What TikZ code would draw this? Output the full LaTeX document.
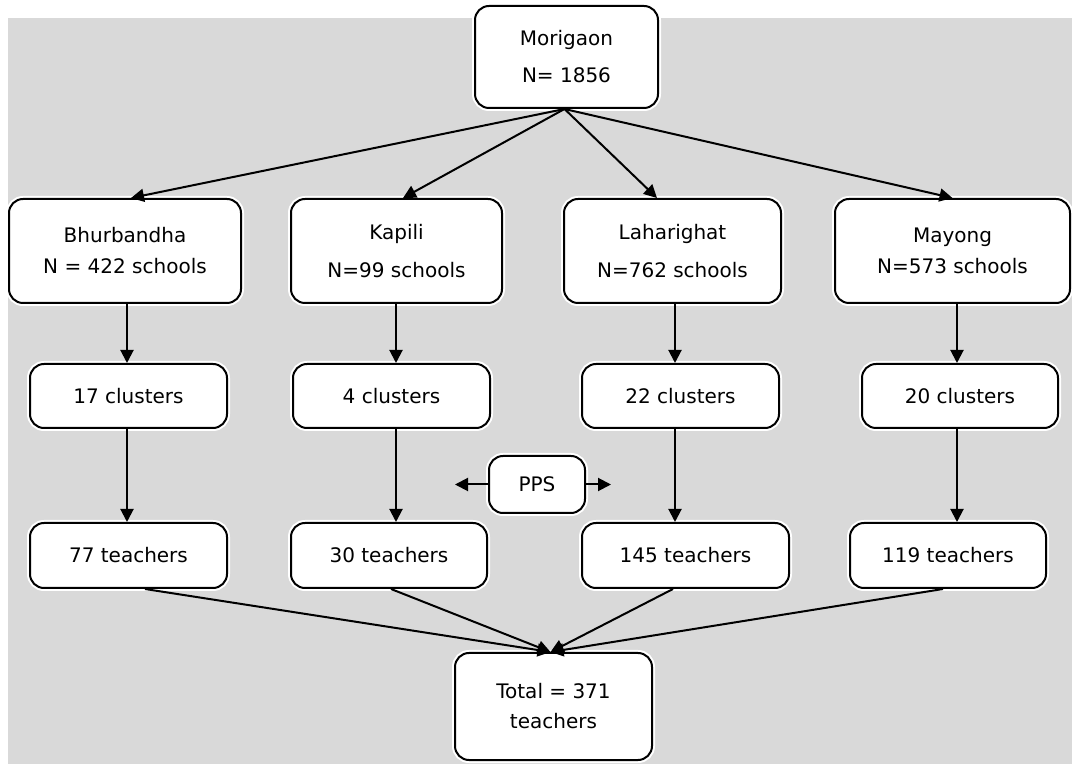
\documentclass[tikz,border=0pt]{standalone}
\usepackage{fontspec}
\setmainfont{DejaVu Sans}
\usetikzlibrary{positioning, arrows.meta}
\definecolor{bggray}{RGB}{217,217,217}
\begin{document}
\begin{tikzpicture}[x=0.5pt, y=-0.5pt,
  every node/.style={font=\fontsize{10}{12}\selectfont},
  box/.style={draw=black, line width=1pt, fill=white, rounded corners=7pt,
    align=center, inner sep=0pt,
    preaction={draw=white, line width=3pt}},
  arr/.style={line width=1pt, -{Triangle[length=6.5pt,width=6.5pt]}}]
\useasboundingbox (0,0) rectangle (1072,764);
\fill[bggray] (8,18) rectangle (1072,764);

\node[box, minimum width=91.5pt, minimum height=51pt] (mor) at (566.5,57) {Morigaon\\[6.5pt]N= 1856};

\node[box, minimum width=116pt, minimum height=52pt] (bhu) at (125,251) {Bhurbandha\\[3.5pt]N = 422 schools};
\node[box, minimum width=105.5pt, minimum height=52pt] (kap) at (396.5,251) {Kapili\\[7pt]N=99 schools};
\node[box, minimum width=108.5pt, minimum height=52pt] (lah) at (672.5,251) {Laharighat\\[7pt]N=762 schools};
\node[box, minimum width=117.5pt, minimum height=52pt] (may) at (952.5,251) {Mayong\\[3.5pt]N=573 schools};

\node[box, minimum width=98.5pt, minimum height=32pt] (c17) at (128.5,396) {17 clusters};
\node[box, minimum width=98.5pt, minimum height=32pt] (c4) at (391.5,396) {4 clusters};
\node[box, minimum width=98.5pt, minimum height=32pt] (c22) at (680.5,396) {22 clusters};
\node[box, minimum width=98pt, minimum height=32pt] (c20) at (960,396) {20 clusters};

\node[box, minimum width=48pt, minimum height=28.5pt] (pps) at (537,484.5) {PPS};
\coordinate (ppsl) at (455,484.5);
\coordinate (ppsr) at (611,484.5);

\node[box, minimum width=98.5pt, minimum height=32.5pt] (t77) at (128.5,555.5) {77 teachers};
\node[box, minimum width=98pt, minimum height=32.5pt] (t30) at (389,555.5) {30 teachers};
\node[box, minimum width=103.5pt, minimum height=32.5pt] (t145) at (685.5,555.5) {145 teachers};
\node[box, minimum width=98pt, minimum height=32.5pt] (t119) at (948,555.5) {119 teachers};

\node[box, minimum width=98.5pt, minimum height=53.5pt] (tot) at (553.5,706.5) {Total = 371\\[3pt]teachers};

\coordinate (ax1) at (127,0);
\coordinate (ax2) at (396,0);
\coordinate (ax3) at (675,0);
\coordinate (ax4) at (957,0);

\draw[arr] ([xshift=-1pt]mor.south) -- ([xshift=3pt]bhu.north);
\draw[arr] ([xshift=-1pt]mor.south) -- ([xshift=3.25pt]kap.north);
\draw[arr] ([xshift=-1pt]mor.south) -- ([xshift=-7.75pt]lah.north);
\draw[arr] ([xshift=-1pt]mor.south) -- (may.north);

\draw[arr] (bhu.south -| ax1) -- (c17.north -| ax1);
\draw[arr] (kap.south -| ax2) -- (c4.north -| ax2);
\draw[arr] (lah.south -| ax3) -- (c22.north -| ax3);
\draw[arr] (may.south -| ax4) -- (c20.north -| ax4);

\draw[arr] (c17.south -| ax1) -- (t77.north -| ax1);
\draw[arr] (c4.south -| ax2) -- (t30.north -| ax2);
\draw[arr] (c22.south -| ax3) -- (t145.north -| ax3);
\draw[arr] (c20.south -| ax4) -- (t119.north -| ax4);

\draw[arr] (pps.west) -- (ppsl);
\draw[arr] (pps.east) -- (ppsr);

\draw[arr] ([xshift=8.25pt]t77.south) -- ([xshift=-1.5pt]tot.north);
\draw[arr] ([xshift=1pt]t30.south) -- ([xshift=-1.5pt]tot.north);
\draw[arr] ([xshift=-6.25pt]t145.south) -- ([xshift=-1.5pt]tot.north);
\draw[arr] ([xshift=-2.5pt]t119.south) -- ([xshift=-1.5pt]tot.north);
\end{tikzpicture}
\end{document}
